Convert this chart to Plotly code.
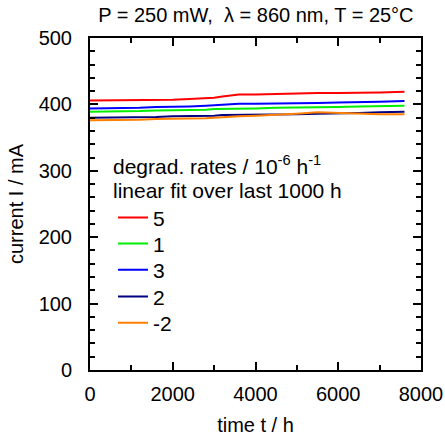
import plotly.graph_objects as go

t = [0, 400, 800, 1200, 1600, 2000, 2400, 2800, 3000, 3200, 3400, 3600, 4000, 4500, 5000, 5500, 6000, 6500, 7000, 7600]
red = [406, 406, 406, 407, 407, 407, 408, 409, 410, 412, 414, 415, 415, 416, 416, 417, 417, 418, 418, 419]
green = [389, 389, 390, 390, 391, 391, 392, 392, 393, 393, 393, 394, 394, 395, 395, 396, 396, 397, 397, 398]
blue = [394, 394, 395, 395, 396, 396, 397, 398, 399, 400, 400, 401, 401, 401, 402, 402, 403, 403, 404, 405]
navy = [380, 380, 381, 381, 381, 382, 382, 383, 383, 384, 384, 384, 385, 385, 385, 386, 386, 387, 388, 389]
orange = [376, 376, 377, 377, 378, 378, 379, 379, 380, 381, 382, 382, 383, 384, 386, 388, 387, 386, 385, 385]

names = ["5", "1", "3", "2", "-2"]
series = [red, green, blue, navy, orange]
colors = ["#ff0000", "#00ee00", "#0000ff", "#000080", "#ff8000"]
header = ["degrad. rates / 10<sup>-6</sup> h<sup>-1</sup>", "linear fit over last 1000 h"]

FONT = "Liberation Sans, Arial, Helvetica, sans-serif"
TF = dict(size=20, color="black", family=FONT)
LF = dict(size=21, color="black", family=FONT)

legend_ids = ["legend", "legend2", "legend3", "legend4", "legend5"]
legend_y = [0.458, 0.380, 0.301, 0.220, 0.1416]

fig = go.Figure()
for n, s, c, lid in zip(names, series, colors, legend_ids):
    fig.add_trace(go.Scatter(x=t, y=s, mode="lines", name=n, legend=lid,
                             line=dict(color=c, width=2)))

axis_common = dict(showline=True, linecolor="black", linewidth=2, mirror="ticks",
                   ticks="inside", ticklen=8, tickwidth=2, tickcolor="black",
                   showgrid=False, zeroline=False, tickfont=TF, automargin=False)

fig.update_xaxes(range=[0, 8000], dtick=2000, tick0=0, ticklabelstandoff=5,
                 minor=dict(dtick=1000, ticks="inside", ticklen=5, tickwidth=2, tickcolor="black"),
                 title=dict(text="time t / h", font=TF, standoff=16),
                 **axis_common)
fig.update_yaxes(range=[0, 500], dtick=100, tick0=0, ticklabelstandoff=12,
                 minor=dict(dtick=20, ticks="inside", ticklen=5, tickwidth=2, tickcolor="black"),
                 title=dict(text="current I / mA", font=TF, standoff=10),
                 **axis_common)

legends = {}
for lid, ly in zip(legend_ids, legend_y):
    legends[lid] = dict(x=0.0695, y=ly, xanchor="left", yanchor="middle",
                        bgcolor="rgba(0,0,0,0)", borderwidth=0, font=LF)

fig.update_layout(
    width=445, height=436,
    margin=dict(l=90, r=24, t=38, b=66, autoexpand=False),
    plot_bgcolor="white", paper_bgcolor="white",
    font=dict(family=FONT, size=20, color="black"),
    title=dict(text="P = 250 mW,  λ = 860 nm, T = 25°C", x=0.575, xanchor="center",
               yref="container", y=0.965, yanchor="middle", font=TF, automargin=False),
    showlegend=True,
    **legends,
)

for txt, yy in zip(header, [0.6175, 0.542]):
    fig.add_annotation(text=txt, xref="paper", yref="paper", x=0.063, y=yy,
                       xanchor="left", yanchor="middle", showarrow=False, font=LF)

fig.write_html("out.html")
